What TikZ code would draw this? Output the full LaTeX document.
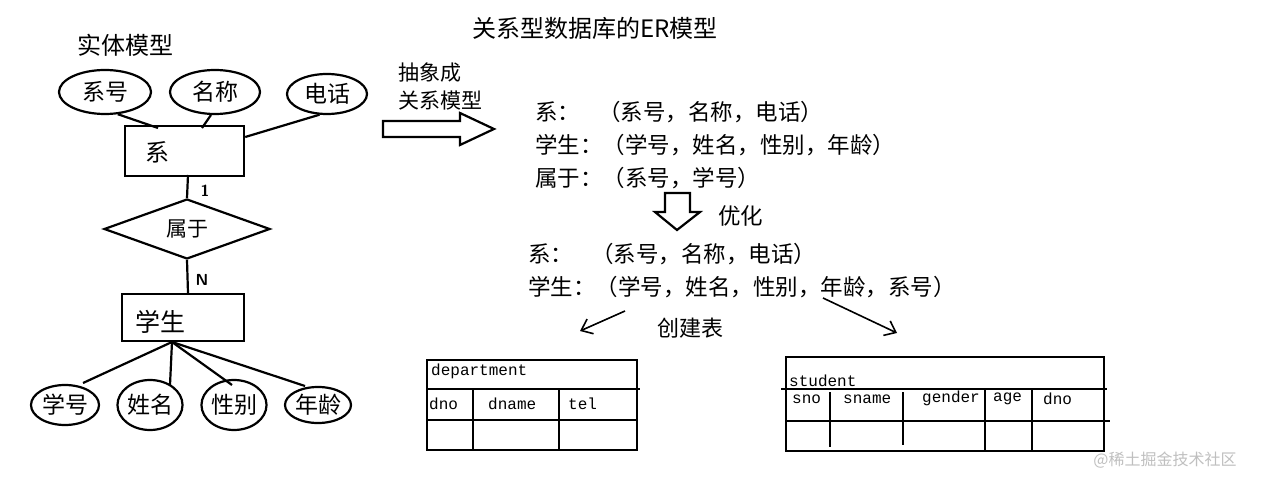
\documentclass[tikz,border=0pt]{standalone}
\usepackage{fontspec}
\setmainfont{Noto Sans CJK SC}
\newfontfamily\monof{Liberation Mono}
\usetikzlibrary{shapes.geometric,arrows.meta}
\begin{document}
\begin{tikzpicture}[x=1pt,y=-1pt,
  lw/.style={line width=2.2pt},
  ell/.style={draw,lw,ellipse,inner sep=0pt,font=\fontsize{23}{23}\selectfont},
  ent/.style={draw,lw,minimum width=119pt,anchor=north west,inner sep=0pt},
  big/.style={font=\fontsize{22.5}{22.5}\selectfont,anchor=west,inner sep=0pt},
  mono/.style={font=\monof\fontsize{16}{16}\selectfont,anchor=west,inner sep=0pt},
  tl/.style={line width=2.4pt}]
\useasboundingbox (0,0) rectangle (1261,486);
\node[font=\fontsize{24}{24}\selectfont] (title) at (595,28) {关系型数据库的ER模型};
\node[font=\fontsize{24}{24}\selectfont] (em) at (125,45) {实体模型};
\node[ell,minimum width=92pt,minimum height=44pt] (a1) at (105,92) {系号};
\node[ell,minimum width=90pt,minimum height=44pt] (a2) at (215,92) {名称};
\node[ell,minimum width=80pt,minimum height=40pt] (a3) at (327,94) {电话};
\node[ent,minimum width=119pt,minimum height=50pt] (dep) at (124,125) {};
\node[font=\fontsize{24}{24}\selectfont] (depl) at (157,152) {系};
\draw[lw] (a1.-60) -- (158,128);
\draw[lw] (a2.-100) -- (202,128);
\draw[lw] (a3.-110) -- (dep.east|-0,137);
\node[draw,lw,diamond,aspect=2.8,minimum width=166pt,minimum height=60pt,inner sep=0pt,font=\fontsize{21}{21}\selectfont] (rel) at (187,229) {属于};
\draw[lw] (188,175) -- (rel.north);
\node[font=\bfseries\sffamily\fontsize{16}{16}\selectfont] (one) at (205,191) {1};
\node[ent,minimum width=122pt,minimum height=47pt] (stu) at (121,293) {};
\node[font=\fontsize{25}{25}\selectfont] (stul) at (160,322) {学生};
\draw[lw] (rel.south) -- (188,293);
\node[font=\bfseries\sffamily\fontsize{16}{16}\selectfont] (nn) at (202,280) {N};
\node[ell,minimum width=68pt,minimum height=40pt] (b1) at (65,405) {学号};
\node[ell,minimum width=62pt,minimum height=50pt] (b2) at (150,405) {姓名};
\node[ell,minimum width=50pt,minimum height=50pt] (b3) at (234,405) {性别};
\node[ell,minimum width=66pt,minimum height=36pt] (b4) at (318,405) {年龄};
\coordinate (hub) at (172,342);
\draw[lw] (hub) -- (83,383);
\draw[lw] (hub) -- (170,385);
\draw[lw] (hub) -- (232,385);
\draw[lw] (hub) -- (305,386);
% abstraction
\node[big,font=\fontsize{21}{21}\selectfont] (t1) at (398,73) {抽象成};
\node[big,font=\fontsize{21}{21}\selectfont] (t2) at (398,101) {关系模型};
\draw[lw] (383,121) -- (460,121) -- (460,113) -- (494,129) -- (460,145) -- (460,137) -- (383,137) -- cycle;
\node[big] (r1) at (535,112) {系：\hspace{0.8em}（系号，名称，电话）};
\node[big] (r2) at (535,145) {学生：（学号，姓名，性别，年龄）};
\node[big] (r3) at (535,178) {属于：（系号，学号）};
\draw[lw] (665,193) -- (690,193) -- (690,212) -- (700,212) -- (677,230) -- (655,212) -- (665,212) -- cycle;
\node[big] (opt) at (718,216) {优化};
\node[big] (s1) at (528,254) {系：\hspace{0.8em}（系号，名称，电话）};
\node[big] (s2) at (528,287) {学生：（学号，姓名，性别，年龄，系号）};
\node[font=\fontsize{22}{22}\selectfont] (ct) at (690,328) {创建表};
\coordinate (p1) at (625,311); \coordinate (q1) at (580,331);
\coordinate (p2) at (823,298); \coordinate (q2) at (897,333);
\draw[line width=1.6pt,-{Straight Barb[length=10pt,width=16pt]}] (p1) -- (q1);
\draw[line width=1.6pt,-{Straight Barb[length=10pt,width=16pt]}] (p2) -- (q2);
% department table
\draw[tl] (427,360) rectangle (637,450);
\draw[tl] (427,389) -- (640,389);
\draw[tl] (427,420) -- (637,420);
\draw[tl] (473,389) -- (473,450);
\draw[tl] (559,389) -- (559,450);
\node[mono] (dt) at (431,371) {department};
\node[mono] (d1) at (429,404) {dno};
\node[mono] (d2) at (488,404) {dname};
\node[mono] (d3) at (568,404) {tel};
% student table
\draw[tl] (786,357) rectangle (1104,451);
\draw[tl] (781,389) -- (1107,389);
\draw[tl] (786,421) -- (1110,421);
\draw[tl] (830,392) -- (830,447);
\draw[tl] (903,392) -- (903,445);
\draw[tl] (985,390) -- (985,451);
\draw[tl] (1032,389) -- (1032,451);
\node[mono] (st) at (789,381) {student};
\node[mono] (c1) at (792,399) {sno};
\node[mono] (c2) at (843,399) {sname};
\node[mono] (c3) at (922,398) {gender};
\node[mono] (c4) at (993,399) {age};
\node[mono] (c5) at (1043,399) {dno};
\node[text=black!25,font=\fontsize{16}{16}\selectfont] (wm) at (1165,460) {@稀土掘金技术社区};
\end{tikzpicture}
\end{document}
